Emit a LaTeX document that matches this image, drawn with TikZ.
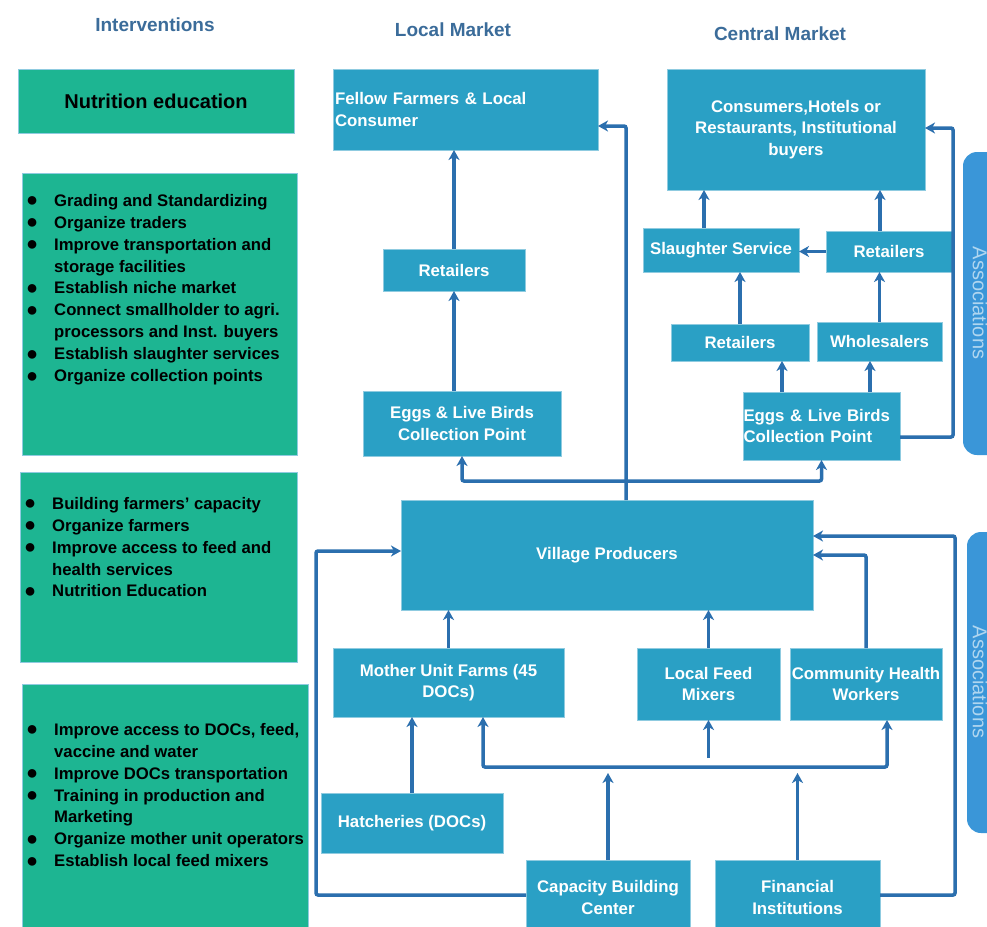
\documentclass[tikz,border=0pt]{standalone}
\usepackage{fontspec}
\setmainfont{Liberation Sans}
\usetikzlibrary{arrows.meta,positioning}
\definecolor{teal1}{HTML}{1DB592}
\definecolor{blue1}{HTML}{2AA0C5}
\definecolor{edge1}{HTML}{8FCBE0}
\definecolor{line1}{HTML}{2B6FAE}
\definecolor{head1}{HTML}{3B6C9A}
\definecolor{assoc1}{HTML}{3A96D8}
\definecolor{assoct}{HTML}{B0D6F0}
\tikzset{
  bbox/.style={fill=blue1, draw=edge1, line width=0.8pt, text=white, font=\fontsize{16.8}{21.5}\selectfont\bfseries, align=center, inner sep=0pt, outer sep=0pt},
  gbox/.style={fill=teal1, draw=edge1, line width=0.8pt, inner sep=0pt, outer sep=0pt},
  glist/.style={font=\fontsize{16.7}{21.9}\selectfont\bfseries, text=black, align=left, inner sep=0pt, anchor=north west},
  hdr/.style={font=\fontsize{19}{22}\selectfont\bfseries, text=head1},
  conn/.style={draw=line1, line width=3.5pt, rounded corners=2pt, -{Stealth[length=10pt,width=11pt,inset=3pt]}},
  abar/.style={fill=assoc1, rounded corners=14pt},
  atext/.style={text=assoct, font=\fontsize{20}{22}\selectfont, rotate=-90}
}
\newcommand{\bl}{\makebox[28pt][l]{\raisebox{-0.5pt}{\fontsize{20}{20}\selectfont ●}}}
\newcommand{\ind}{\hspace*{28pt}}
\begin{document}
\begin{tikzpicture}[x=1pt,y=-1pt]
\useasboundingbox (0,0) rectangle (987,926);
\fill[white] (0,0) rectangle (987,926);

% headers
\node[hdr] (hInt) at (155,25) {Interventions};
\node[hdr] (hLoc) at (453,30) {Local Market};
\node[hdr] (hCen) at (780,34) {Central Market};

% associations bars
\fill[abar] (963,152) rectangle (1015,455);
\fill[abar] (967,532) rectangle (1015,833);
\node[atext] (as1) at (980,303) {Associations};
\node[atext] (as2) at (980,682) {Associations};

% green boxes
\node[gbox, minimum width=276, minimum height=64, font=\fontsize{20}{22}\selectfont\bfseries] (nut) at (156,101) {Nutrition  education};
\node[gbox, minimum width=275, minimum height=282] (g1) at (159.5,314) {};
\node[glist] (g1t) at (26,194) {\bl Grading and Standardizing\\
\bl Organize traders\\
\bl Improve transportation and\\
\ind storage facilities\\
\bl Establish niche market\\
\bl Connect smallholder to agri.\\
\ind processors and Inst. buyers\\
\bl Establish slaughter services\\
\bl Organize collection points};
\node[gbox, minimum width=277, minimum height=190] (g2) at (158.5,567) {};
\node[glist] (g2t) at (24,497) {\bl Building farmers' capacity\\
\bl Organize farmers\\
\bl Improve access to feed and\\
\ind health services\\
\bl Nutrition Education};
\node[gbox, minimum width=286, minimum height=251] (g3) at (165,809.5) {};
\node[glist] (g3t) at (26,723) {\bl Improve access to DOCs, feed,\\
\ind vaccine and water\\
\bl Improve DOCs transportation\\
\bl Training in production and\\
\ind Marketing\\
\bl Organize mother unit operators\\
\bl Establish local feed mixers};

% blue boxes
\node[bbox, minimum width=265, minimum height=81, align=left, text width=261, inner xsep=2pt] (fellow) at (465.5,109.5) {Fellow Farmers \& Local\\Consumer};
\node[bbox, minimum width=258, minimum height=121] (cons) at (796,129.5) {Consumers,Hotels or\\Restaurants, Institutional\\buyers};
\node[bbox, minimum width=142, minimum height=42] (retL) at (454,270) {Retailers};
\node[bbox, minimum width=198, minimum height=65] (eggsL) at (462,423.5) {Eggs \& Live Birds\\Collection  Point};
\node[bbox, minimum width=156, minimum height=44] (slau) at (721,250) {Slaughter Service};
\node[bbox, minimum width=126, minimum height=41] (retC) at (889,251.5) {Retailers};
\node[bbox, minimum width=138, minimum height=37] (retC2) at (740,342.5) {Retailers};
\node[bbox, minimum width=125, minimum height=39] (whole) at (879.5,341.5) {Wholesalers};
\node[bbox, minimum width=157, minimum height=68, align=left, text width=156, inner xsep=0.5pt] (eggsC) at (821.5,426) {Eggs \& Live Birds\\Collection  Point};
\node[bbox, minimum width=412, minimum height=110] (vp) at (607,555) {Village Producers};
\node[bbox, minimum width=231, minimum height=69] (moth) at (448.5,682.5) {Mother Unit Farms (45\\DOCs)};
\node[bbox, minimum width=143, minimum height=72] (lfm) at (708.5,684) {Local Feed\\Mixers};
\node[bbox, minimum width=152, minimum height=72] (chw) at (866,684) {Community Health\\Workers};
\node[bbox, minimum width=182, minimum height=60] (hatch) at (412,823) {Hatcheries (DOCs)};
\node[bbox, minimum width=164, minimum height=75] (cap) at (608,897.5) {Capacity Building\\Center};
\node[bbox, minimum width=165, minimum height=75] (fin) at (797.5,897.5) {Financial\\Institutions};

% helper coordinates
\coordinate (j1) at (626,126);
\coordinate (bus) at (626,481);
\coordinate (r1) at (953,128);
\coordinate (r2) at (955,536);
\coordinate (l1) at (316,551);
\coordinate (b2L) at (483,767);
\coordinate (b2R) at (887,767);

% local market
\draw[conn] (retL.north) -- (retL.north |- fellow.south);
\draw[conn] (retL.south |- eggsL.north) -- (retL.south);
\draw[conn] (vp.north -| j1) |- (fellow.east |- j1);
\draw[conn] (bus) -| (eggsL.south);
\draw[conn] (bus) -| (eggsC.south);

% central market
\draw[conn] ([xshift=-39.5pt]eggsC.north) -- ([xshift=-39.5pt]eggsC.north |- retC2.south);
\draw[conn] ([xshift=48.5pt]eggsC.north) -- ([xshift=48.5pt]eggsC.north |- whole.south);
\draw[conn] (retC2.north) -- (retC2.north |- slau.south);
\draw[conn] (whole.north) -- (whole.north |- retC.south);
\draw[conn] (retC.west) -- (retC.west -| slau.east);
\draw[conn] ([xshift=-17pt]slau.north) -- ([xshift=-17pt]slau.north |- cons.south);
\draw[conn] ([xshift=-9pt]retC.north) -- ([xshift=-9pt]retC.north |- cons.south);
\draw[conn] ([yshift=-11pt]eggsC.east) -| (r1) -- (cons.east |- r1);

% production
\draw[conn] (moth.north) -- (moth.north |- vp.south);
\draw[conn] (hatch.north) -- (hatch.north |- moth.south);
\draw[conn] (lfm.north) -- (lfm.north |- vp.south);
\draw[conn] (chw.north) |- (vp.east);
\draw[conn] ([yshift=2.5pt]fin.east) -| (r2) -- (vp.east |- r2);
\draw[conn] ([yshift=2.5pt]cap.west) -| (l1) -- (vp.west |- l1);
\draw[conn, {Stealth[length=10pt,width=11pt,inset=3pt]}-{Stealth[length=10pt,width=11pt,inset=3pt]}] (b2L |- moth.south) |- (b2R) -- (b2R |- chw.south);
\draw[conn] ([yshift=-38pt]lfm.south) -- (lfm.south);
\draw[conn] (cap.north) -- ([yshift=-6pt]cap.north |- b2L);
\draw[conn] (fin.north) -- ([yshift=-6pt]fin.north |- b2L);
\end{tikzpicture}
\end{document}
